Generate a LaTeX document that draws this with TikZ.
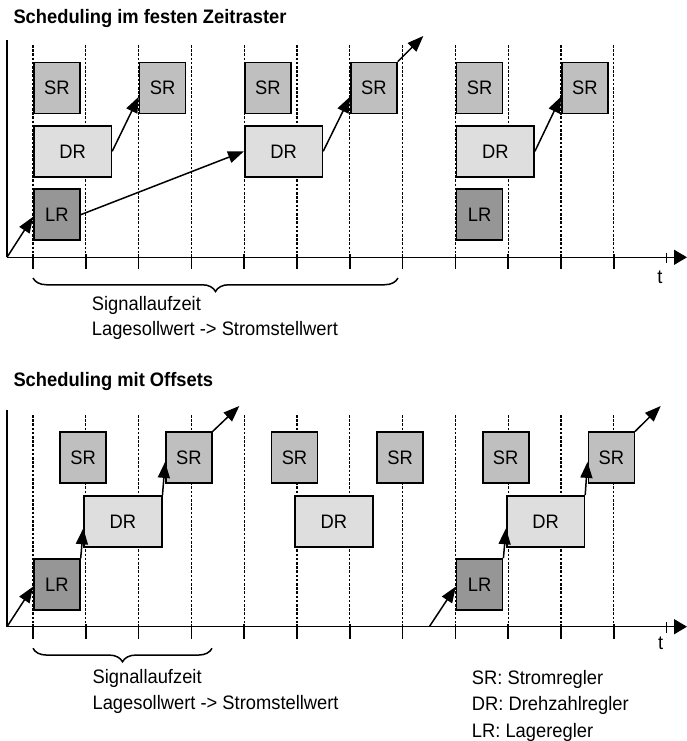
\documentclass[tikz,border=0pt]{standalone}
\usepackage{fontspec}
\setmainfont{Liberation Sans}[FakeStretch=0.94]
\usetikzlibrary{arrows.meta,decorations.pathreplacing,calc}
\definecolor{srfill}{gray}{0.75}
\definecolor{drfill}{gray}{0.87}
\definecolor{lrfill}{gray}{0.59}
\begin{document}
\begin{tikzpicture}[x=1pt,y=-1pt,
  box/.style={draw=black,line width=1.6pt,minimum height=51pt,inner sep=0pt,font=\fontsize{19.5}{23}\selectfont},
  srbox/.style={box,fill=srfill,minimum width=46pt},
  drbox/.style={box,fill=drfill,minimum width=77.6pt},
  lrbox/.style={box,fill=lrfill,minimum width=46pt},
  grid/.style={line width=1.3pt,dash pattern=on 2.6pt off 1.6pt},
  axis/.style={line width=1.5pt},
  tickmark/.style={line width=1.5pt},
  conn/.style={line width=1.5pt,-{Triangle[length=16pt,width=12pt]}},
  lbl/.style={font=\fontsize{19.5}{23}\selectfont,anchor=base west,inner sep=0pt},
  ttl/.style={font=\bfseries\fontsize{19.5}{23}\selectfont,anchor=base west,inner sep=0pt},
  brc/.style={line width=1.5pt,decorate,decoration={brace,mirror,amplitude=13.5pt}},
]
\useasboundingbox (0,0) rectangle (687,741);

% ---------------- Top panel ----------------
\node[ttl] (title1) at (13.3,23.3) {Scheduling im festen Zeitraster};
\foreach \k in {0,...,11} {
  \draw[grid] ({33+52.8*\k},45) -- ({33+52.8*\k},257.3);
  \draw[tickmark] ({33+52.8*\k},254.3) -- ({33+52.8*\k},269.3);
}
\draw[tickmark] (666.6,252.8) -- (666.6,263.3);
\coordinate (O1) at (7,257.3);
\coordinate (Y1) at (7,40);
\coordinate (X1) at (687,257.3);
\draw[axis] (Y1) -- (O1);
\draw[axis,-{Triangle[length=13pt,width=15pt]}] (O1) -- (X1);
\node[font=\fontsize{19.5}{23}\selectfont,inner sep=0pt] (t1) at (660,277) {t};

\node[srbox] (sr1) at (56.9,88) {SR};
\node[srbox] (sr2) at (162.6,88) {SR};
\node[srbox] (sr3) at (267.9,88) {SR};
\node[srbox] (sr4) at (373.9,88) {SR};
\node[srbox] (sr5) at (479.6,88) {SR};
\node[srbox] (sr6) at (584.9,88) {SR};
\node[drbox] (dr1) at (72.6,151.3) {DR};
\node[drbox] (dr2) at (283.6,151.3) {DR};
\node[drbox] (dr3) at (495.3,151.3) {DR};
\node[lrbox] (lr1) at (56.9,214.7) {LR};
\node[lrbox] (lr2) at (479.6,214.7) {LR};

\coordinate (out1) at (423.3,36);
\draw[conn] (O1) -- (lr1.185);
\draw[conn] (lr1.east) -- (dr2.west);
\draw[conn] (dr1.east) -- (sr2.200);
\draw[conn] (dr2.east) -- (sr4.200);
\draw[conn] (sr4.north east) -- (out1);
\draw[conn] (dr3.east) -- (sr6.200);

\coordinate (b1l) at (33,278);
\coordinate (b1r) at (398,278);
\draw[brc] (b1l) -- (b1r);
\node[lbl] (sig1) at (91.7,310) {Signallaufzeit};
\node[lbl] (lag1) at (91.7,335) {Lagesollwert -> Stromstellwert};

% ---------------- Bottom panel ----------------
\node[ttl] (title2) at (13.3,386) {Scheduling mit Offsets};
\foreach \k in {0,...,11} {
  \draw[grid] ({33+52.8*\k},415) -- ({33+52.8*\k},626.7);
  \draw[tickmark] ({33+52.8*\k},623.7) -- ({33+52.8*\k},638.5);
}
\draw[tickmark] (666.6,622.2) -- (666.6,632.7);
\coordinate (O2) at (7,626.7);
\coordinate (Y2) at (7,410);
\coordinate (X2) at (687,626.7);
\draw[axis] (Y2) -- (O2);
\draw[axis,-{Triangle[length=13pt,width=15pt]}] (O2) -- (X2);
\node[font=\fontsize{19.5}{23}\selectfont,inner sep=0pt] (t2) at (660.7,643) {t};

\node[srbox] (bsr1) at (83.2,457.7) {SR};
\node[srbox] (bsr2) at (188.9,457.7) {SR};
\node[srbox] (bsr3) at (294.5,457.7) {SR};
\node[srbox] (bsr4) at (400.1,457.7) {SR};
\node[srbox] (bsr5) at (505.7,457.7) {SR};
\node[srbox] (bsr6) at (611.3,457.7) {SR};
\node[drbox] (bdr1) at (122.9,521.3) {DR};
\node[drbox] (bdr2) at (333.9,521.3) {DR};
\node[drbox] (bdr3) at (545.6,521.3) {DR};
\node[lrbox] (blr1) at (56.9,584.5) {LR};
\node[lrbox] (blr2) at (479.6,584.5) {LR};

\coordinate (out2) at (239.3,406);
\coordinate (out3) at (660.7,406);
\coordinate (st2) at (429.3,626.7);
\draw[conn] (O2) -- (blr1.185);
\draw[conn] (blr1.north east) -- (bdr1.190);
\draw[conn] (bdr1.north east) -- (bsr2.190);
\draw[conn] (bsr2.north east) -- (out2);
\draw[conn] (st2) -- (blr2.185);
\draw[conn] (blr2.north east) -- (bdr3.190);
\draw[conn] (bdr3.north east) -- (bsr6.190);
\draw[conn] (bsr6.north east) -- (out3);

\coordinate (b2l) at (33,648.3);
\coordinate (b2r) at (212,648.3);
\draw[brc] (b2l) -- (b2r);
\node[lbl] (sig2) at (92.4,683) {Signallaufzeit};
\node[lbl] (lag2) at (92.4,709) {Lagesollwert -> Stromstellwert};

\node[lbl] (leg1) at (471.7,684) {SR: Stromregler};
\node[lbl] (leg2) at (471.7,710) {DR: Drehzahlregler};
\node[lbl] (leg3) at (471.7,737) {LR: Lageregler};
\end{tikzpicture}
\end{document}
